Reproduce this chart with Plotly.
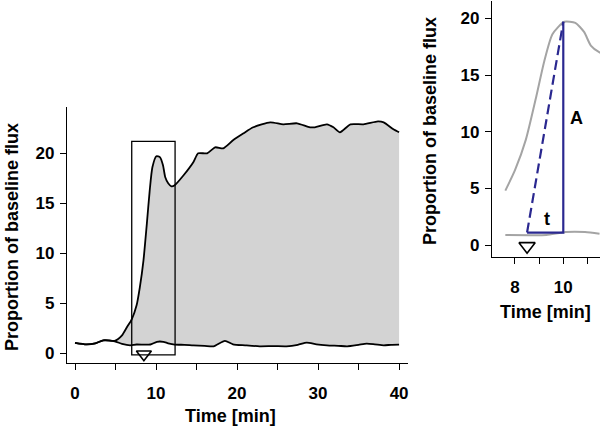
import plotly.graph_objects as go

# ---------------- data ----------------
time_upper = [0, 1.4, 2.5, 3.5, 4.9, 5.8, 6.4, 7.0, 7.6, 8.0, 8.45, 8.87, 9.21, 9.55,
              10.04, 10.5, 10.86, 11.14, 11.5, 11.9, 12.3, 13.4, 14.6, 15.2, 16.3,
              17.3, 18.3, 19.5, 20.8, 22.0, 24.1, 25.7, 27.4, 29.0, 29.6, 31.1,
              31.9, 32.7, 34.0, 35.6, 37.4, 38.1, 39.3, 40]
flux_upper = [1.05, 0.9, 1.0, 1.3, 1.25, 1.8, 2.6, 3.4, 4.8, 6.6, 9.3, 13.0, 16.2, 18.6,
              19.7, 19.6, 18.8, 17.6, 17.0, 16.7, 16.8, 17.8, 19.1, 20.0, 20.0,
              20.6, 20.5, 21.3, 22.0, 22.6, 23.1, 22.9, 23.0, 22.6, 22.6, 22.9,
              22.6, 22.1, 22.9, 22.9, 23.2, 23.1, 22.4, 22.1]

time_lower = [0, 1.4, 2.5, 3.5, 4.9, 5.8, 6.8, 7.6, 8.6, 9.3, 10.1, 10.9, 11.5, 12.3,
              13.5, 14.6, 16.0, 17.1, 18.5, 19.5, 21.0, 22.8, 24.5, 26.1, 27.5,
              28.6, 29.8, 31.1, 32.5, 33.6, 35.0, 36.0, 37.0, 38.1, 39.0, 40]
flux_lower = [1.05, 0.9, 1.0, 1.3, 1.2, 0.95, 0.8, 0.88, 0.86, 0.88, 1.15, 1.15, 1.0, 0.87,
              0.85, 0.8, 0.75, 0.7, 1.25, 0.9, 0.8, 0.7, 0.72, 0.7, 0.85,
              1.07, 0.9, 0.8, 0.75, 0.7, 0.85, 0.97, 0.9, 0.8, 0.85, 0.87]

stim_time = 8.5          # stimulus marker (open triangle)
onset_time = 8.5         # response onset
base_flux = 1.1          # baseline level at onset
peak_time = 10.0         # time of first peak
peak_flux = 19.7         # amplitude A
inset_start = 7.6        # inset curves begin here
inset_end = 11.6
zoom_t = [7.0, 12.35]    # framed region on the main panel
zoom_f = [-0.15, 21.2]

main_xticks = [0, 5, 10, 15, 20, 25, 30, 35, 40]
main_xlabels = ["0", "", "10", "", "20", "", "30", "", "40"]
flux_ticks = [0, 5, 10, 15, 20]
inset_xticks = [8, 9, 10, 11]
inset_xlabels = ["8", "", "10", ""]

# ---------------- figure ----------------
FONT = "Liberation Sans, Arial, Helvetica, sans-serif"
BLUE = "#2a2890"
GREY = "#a4a4a4"

fig = go.Figure()

# shaded region between curves
fig.add_trace(go.Scatter(
    x=time_upper + time_lower[::-1], y=flux_upper + flux_lower[::-1],
    fill="toself", fillcolor="#d3d3d3", line=dict(width=0), mode="lines",
    hoverinfo="skip", showlegend=False, xaxis="x", yaxis="y"))
fig.add_trace(go.Scatter(x=time_upper, y=flux_upper, mode="lines",
                         line=dict(color="black", width=1.8, shape="spline", smoothing=0.6),
                         showlegend=False, xaxis="x", yaxis="y"))
fig.add_trace(go.Scatter(x=time_lower, y=flux_lower, mode="lines",
                         line=dict(color="black", width=1.8, shape="spline", smoothing=0.6),
                         showlegend=False, xaxis="x", yaxis="y"))
fig.add_trace(go.Scatter(x=[stim_time], y=[-0.1], mode="markers",
                         marker=dict(symbol="triangle-down-open", size=13, color="black",
                                     line=dict(width=1.6, color="black")),
                         showlegend=False, xaxis="x", yaxis="y"))

# inset curves
iu = [(t, v) for t, v in zip(time_upper, flux_upper) if inset_start <= t <= inset_end + 0.5]
il = [(t, v) for t, v in zip(time_lower, flux_lower) if inset_start <= t <= inset_end + 0.5]
fig.add_trace(go.Scatter(x=[p[0] for p in iu], y=[p[1] for p in iu], mode="lines",
                         line=dict(color=GREY, width=2, shape="spline", smoothing=0.6),
                         showlegend=False, xaxis="x2", yaxis="y2"))
fig.add_trace(go.Scatter(x=[p[0] for p in il], y=[p[1] for p in il], mode="lines",
                         line=dict(color=GREY, width=2, shape="spline", smoothing=0.6),
                         showlegend=False, xaxis="x2", yaxis="y2"))
# latency / amplitude construction
fig.add_trace(go.Scatter(x=[onset_time, peak_time], y=[base_flux, peak_flux], mode="lines",
                         line=dict(color=BLUE, width=2.2, dash="10px,5px"),
                         showlegend=False, xaxis="x2", yaxis="y2"))
fig.add_trace(go.Scatter(x=[onset_time, peak_time, peak_time], y=[base_flux, base_flux, peak_flux],
                         mode="lines", line=dict(color=BLUE, width=2.2),
                         showlegend=False, xaxis="x2", yaxis="y2"))
fig.add_trace(go.Scatter(x=[stim_time], y=[-0.1], mode="markers",
                         marker=dict(symbol="triangle-down-open", size=14, color="black",
                                     line=dict(width=1.6, color="black")),
                         showlegend=False, xaxis="x2", yaxis="y2"))

fig.add_shape(type="rect", xref="x", yref="y", x0=zoom_t[0], x1=zoom_t[1],
              y0=zoom_f[0], y1=zoom_f[1], line=dict(color="black", width=1.3))

tickfont = dict(family=FONT, size=17, color="black", weight="bold")
axis_common = dict(showline=True, linecolor="black", linewidth=1.3, ticks="outside",
                   ticklen=6, tickwidth=1.3, tickcolor="black", showgrid=False,
                   zeroline=False, tickfont=tickfont, mirror=False)

W, H = 600, 426
fig.update_layout(
    width=W, height=H, margin=dict(l=0, r=0, t=0, b=0),
    paper_bgcolor="white", plot_bgcolor="white",
    xaxis=dict(domain=[67 / W, 408 / W], range=[-0.99, 41.1], anchor="y",
               tickvals=main_xticks, ticktext=main_xlabels, ticklabelstandoff=8,
               **axis_common),
    yaxis=dict(domain=[1 - 363 / H, 1 - 107 / H], range=[-0.97, 24.63], anchor="x",
               tickvals=flux_ticks, ticklabelstandoff=2, **axis_common),
    xaxis2=dict(domain=[492 / W, 1.0], range=[7.048, 11.52], anchor="y2",
                tickvals=inset_xticks, ticktext=inset_xlabels, ticklabelstandoff=8,
                **axis_common),
    yaxis2=dict(domain=[1 - 257.3 / H, 1 - 1 / H], range=[-1.085, 21.53], anchor="x2",
                tickvals=flux_ticks, ticklabelstandoff=2, **axis_common),
)

titlefont = dict(family=FONT, size=18, color="black", weight="bold")
ann = [
    dict(text="Time [min]", x=230 / W, y=1 - 416 / H, xref="paper", yref="paper",
         showarrow=False, font=titlefont, xanchor="center", yanchor="middle"),
    dict(text="Proportion of baseline flux", x=12 / W, y=1 - 237 / H, xref="paper", yref="paper",
         showarrow=False, font=titlefont, textangle=-90, xanchor="center", yanchor="middle"),
    dict(text="Time [min]", x=545 / W, y=1 - 312 / H, xref="paper", yref="paper",
         showarrow=False, font=titlefont, xanchor="center", yanchor="middle"),
    dict(text="Proportion of baseline flux", x=430 / W, y=1 - 131 / H, xref="paper", yref="paper",
         showarrow=False, font=titlefont, textangle=-90, xanchor="center", yanchor="middle"),
    dict(text="A", x=10.55, y=11.2, xref="x2", yref="y2", showarrow=False, font=titlefont),
    dict(text="t", x=9.31, y=2.3, xref="x2", yref="y2", showarrow=False, font=titlefont),
]
fig.update_layout(annotations=ann)

fig.write_html("out.html", config={"displayModeBar": False},
               post_script="document.body.style.margin='0';document.body.style.padding='0';")
